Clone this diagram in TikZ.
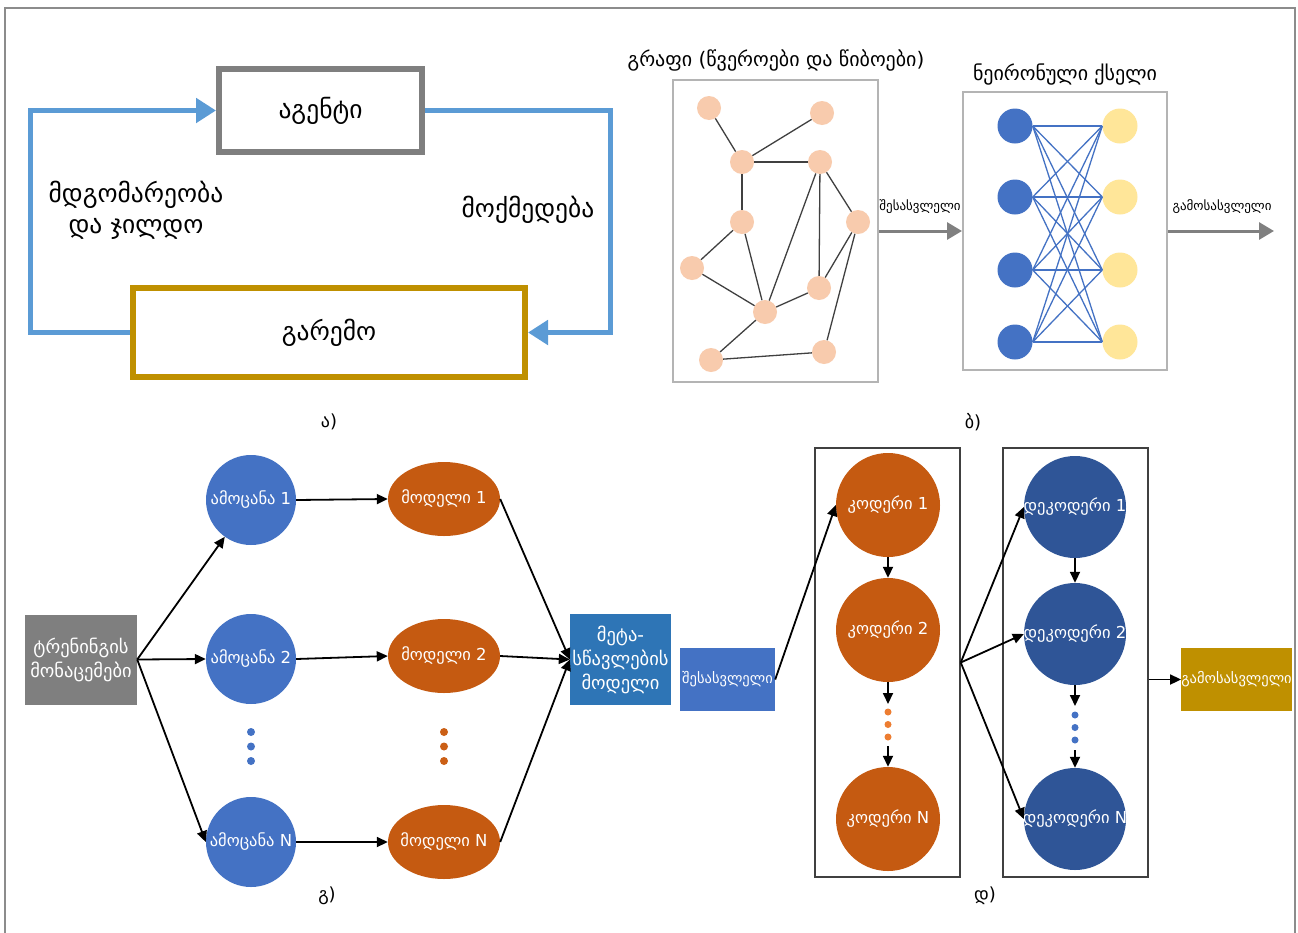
\documentclass[tikz,border=0pt]{standalone}
\usepackage{fontspec}
\setmainfont{DejaVu Sans}
\usetikzlibrary{arrows.meta,shapes.geometric}

\definecolor{framegray}{HTML}{8C8C8C}
\definecolor{agentgray}{HTML}{7F7F7F}
\definecolor{envgold}{HTML}{BF9000}
\definecolor{loopblue}{HTML}{5B9BD5}
\definecolor{peach}{HTML}{F8CBAD}
\definecolor{nnblue}{HTML}{4472C4}
\definecolor{nnyellow}{HTML}{FFE699}
\definecolor{boxgray}{HTML}{B4B4B4}
\definecolor{arrowgray}{HTML}{808080}
\definecolor{trgray}{HTML}{7F7F7F}
\definecolor{taskblue}{HTML}{4472C4}
\definecolor{modelorange}{HTML}{C55A11}
\definecolor{metablue}{HTML}{2E75B6}
\definecolor{decblue}{HTML}{2F5597}
\definecolor{dotorange}{HTML}{ED7D31}
\definecolor{outgold}{HTML}{BF9000}
\definecolor{encframe}{HTML}{404040}

\tikzset{
  bigtxt/.style={font=\fontsize{25.5}{31}\selectfont},
  midtxt/.style={font=\fontsize{20}{24}\selectfont},
  smalltxt/.style={font=\fontsize{13}{16}\selectfont},
  circtxt/.style={font=\fontsize{16.5}{20}\selectfont},
  boxtxt/.style={font=\fontsize{14.5}{19}\selectfont},
  bigboxtxt/.style={font=\fontsize{18.5}{24}\selectfont},
  panel/.style={font=\fontsize{18}{22}\selectfont},
  inlbl/.style={text=white, circtxt, inner sep=0pt},
  loopline/.style={draw=loopblue, line width=5pt, -{Triangle[length=20pt,width=24pt]}},
  gnode/.style={circle, fill=peach, minimum size=24pt, inner sep=0pt},
  gedge/.style={draw=black!75, line width=1.3pt},
  nnl/.style={circle, fill=nnblue, minimum size=35pt, inner sep=0pt},
  nnr/.style={circle, fill=nnyellow, minimum size=35pt, inner sep=0pt},
  nnedge/.style={draw=nnblue, line width=1.3pt},
  grayarrow/.style={draw=arrowgray, line width=3pt, -{Triangle[length=15pt,width=17pt]}},
  blk/.style={draw=black, line width=1.8pt, -{Triangle[length=11pt,width=10pt]}},
  taskc/.style={circle, fill=taskblue, minimum size=90pt, inner sep=0pt},
  modele/.style={ellipse, fill=modelorange, minimum width=112pt, minimum height=74pt, inner sep=0pt},
  encc/.style={circle, fill=modelorange, minimum size=104pt, inner sep=0pt},
  decc/.style={circle, fill=decblue, minimum size=102pt, inner sep=0pt},
  flatbox/.style={rectangle, inner sep=0pt, text=white, align=center, boxtxt},
  dotb/.style={circle, fill=taskblue, minimum size=8pt, inner sep=0pt},
  doto/.style={circle, fill=dotorange, minimum size=8pt, inner sep=0pt},
}

\begin{document}
\begin{tikzpicture}[x=1pt,y=-1pt]
\useasboundingbox (0,0) rectangle (1298,932);
\fill[white] (0,0) rectangle (1298,932);

% outer frame
\draw[framegray, line width=1.6pt] (5,950) -- (5,8) -- (1295,8) -- (1295,950);

% ---------- a) agent / environment loop ----------
\node[draw=agentgray, line width=6pt, fill=white, minimum width=203pt, minimum height=83pt, bigtxt] (agent) at (320.5,110.5) {აგენტი};
\node[draw=envgold, line width=6pt, fill=white, minimum width=392pt, minimum height=89pt, bigtxt] (env) at (329,332.5) {გარემო};
\draw[loopline] (env.west) -- (30,332.5) -- (30,110.5) -- (agent.west);
\draw[loopline] (agent.east) -- (610,110.5) -- (610,332.5) -- (env.east);
\node[bigtxt, align=center] (state) at (136,210) {მდგომარეობა\\და ჯილდო};
\node[bigtxt] (action) at (528,210) {მოქმედება};
\node[panel] (pa) at (329,422) {ა)};

% ---------- b) graph and neural network ----------
\node[midtxt] (gtitle) at (776,60) {გრაფი (წვეროები და წიბოები)};
\node[draw=boxgray, line width=2pt, minimum width=205pt, minimum height=302pt] (gbox) at (775.5,231) {};
\node[gnode] (A) at (709,108) {};
\node[gnode] (B) at (822,113) {};
\node[gnode] (C) at (742,162) {};
\node[gnode] (D) at (820,162) {};
\node[gnode] (E) at (742,222) {};
\node[gnode] (F) at (858,222) {};
\node[gnode] (G) at (692,268) {};
\node[gnode] (H) at (819,288) {};
\node[gnode] (I) at (765,312) {};
\node[gnode] (J) at (711,360) {};
\node[gnode] (K) at (824,352) {};
\foreach \u/\v in {A/C,B/C,C/D,C/E,E/G,E/I,G/I,D/I,D/H,D/F,F/H,F/K,I/H,I/J,J/K}
  \draw[gedge] (\u) -- (\v);

\node[midtxt] (nntitle) at (1065,75) {ნეირონული ქსელი};
\node[draw=boxgray, line width=2pt, minimum width=204pt, minimum height=278pt] (nnbox) at (1065,231) {};
\foreach \k/\yy in {1/126,2/197,3/270,4/342} {
  \node[nnl] (l\k) at (1015,\yy) {};
  \node[nnr] (r\k) at (1120,\yy) {};
}
\foreach \i in {1,...,4}
  \foreach \j in {1,...,4}
    \draw[nnedge] (l\i.east) -- (r\j.west);

\draw[grayarrow] (gbox.east) -- (nnbox.west);
\node[smalltxt] (inlab) at (920,207) {შესასვლელი};
\coordinate (nnout) at (1274,231);
\draw[grayarrow] (nnbox.east) -- (nnout);
\node[smalltxt] (outlab) at (1222,207) {გამოსასვლელი};
\node[panel] (pb) at (973,422) {ბ)};

% ---------- c) meta-learning ----------
\node[flatbox, fill=trgray, minimum width=112pt, minimum height=90pt, bigboxtxt] (tr) at (81,659.5) {ტრენინგის\\მონაცემები};
\node[taskc, label={[inlbl]center:ამოცანა 1}] (t1) at (251,500) {};
\node[taskc, label={[inlbl]center:ამოცანა 2}] (t2) at (251,659) {};
\node[taskc, label={[inlbl]center:ამოცანა N}] (tN) at (251,842) {};
\node[modele, label={[inlbl]center:მოდელი 1}] (m1) at (444,499) {};
\node[modele, label={[inlbl]center:მოდელი 2}] (m2) at (444,656) {};
\node[modele, label={[inlbl]center:მოდელი N}] (mN) at (444,842) {};
\node[flatbox, fill=metablue, minimum width=101pt, minimum height=91pt, bigboxtxt] (meta) at (620.5,659.5) {მეტა-\\სწავლების\\მოდელი};
\foreach \yy [count=\k] in {732,746.5,761} {
  \node[dotb] (tdot\k) at (251,\yy) {};
  \node[doto, fill=modelorange!85!dotorange] (mdot\k) at (444,\yy) {};
}
\draw[blk] (tr.east) -- (t1);
\draw[blk] (tr.east) -- (t2.west);
\draw[blk] (tr.east) -- (tN.west);
\draw[blk] (t1.east) -- (m1.west);
\draw[blk] (t2.east) -- (m2.west);
\draw[blk] (tN.east) -- (mN.west);
\draw[blk] (m1.east) -- (meta.west);
\draw[blk] (m2.east) -- (meta.west);
\draw[blk] (mN.east) -- (meta.west);
\node[panel] (pc) at (327,896) {გ)};

% ---------- d) encoder / decoder ----------
\node[flatbox, fill=nnblue, minimum width=95pt, minimum height=63pt] (inp) at (727.5,679.5) {შესასვლელი};
\node[draw=encframe, line width=1.5pt, minimum width=145pt, minimum height=429pt] (encbox) at (887.5,662.5) {};
\node[draw=encframe, line width=1.5pt, minimum width=145pt, minimum height=429pt] (decbox) at (1075.5,662.5) {};
\node[encc, label={[inlbl]center:კოდერი 1}] (e1) at (888,505) {};
\node[encc, label={[inlbl]center:კოდერი 2}] (e2) at (888,630) {};
\node[encc, label={[inlbl]center:კოდერი N}] (eN) at (888,819) {};
\node[decc, label={[inlbl]center:დეკოდერი 1}] (d1) at (1075,507) {};
\node[decc, label={[inlbl]center:დეკოდერი 2}] (d2) at (1075,634) {};
\node[decc, label={[inlbl]center:დეკოდერი N}] (dN) at (1075,819) {};
\node[flatbox, fill=outgold, minimum width=106pt, minimum height=63pt] (out) at (1236.5,679.5) {გამოსასვლელი};

\coordinate (ea) at (888,704);
\coordinate (eb) at (888,746);
\coordinate (da) at (1075,706);
\coordinate (db) at (1075,750);
\foreach \yy [count=\k] in {712,724.5,737} \node[doto, minimum size=7pt] (edot\k) at (888,\yy) {};
\foreach \yy [count=\k] in {715,727.5,740} \node[dotb, minimum size=7pt] (ddot\k) at (1075,\yy) {};

\draw[blk] (inp.east) -- (e1.west);
\draw[blk] (e1.south) -- (e2.north);
\draw[blk] (e2.south) -- (ea);
\draw[blk] (eb) -- (eN.north);
\draw[blk] (d1.south) -- (d2.north);
\draw[blk] (d2.south) -- (da);
\draw[blk] (db) -- (dN.north);
\draw[blk] (encbox.east) -- (d1.west);
\draw[blk] (encbox.east) -- (d2.west);
\draw[blk] (encbox.east) -- (dN.west);
\draw[blk] (decbox.east |- out.west) -- (out.west);
\node[panel] (pd) at (985,896) {დ)};
\end{tikzpicture}
\end{document}
